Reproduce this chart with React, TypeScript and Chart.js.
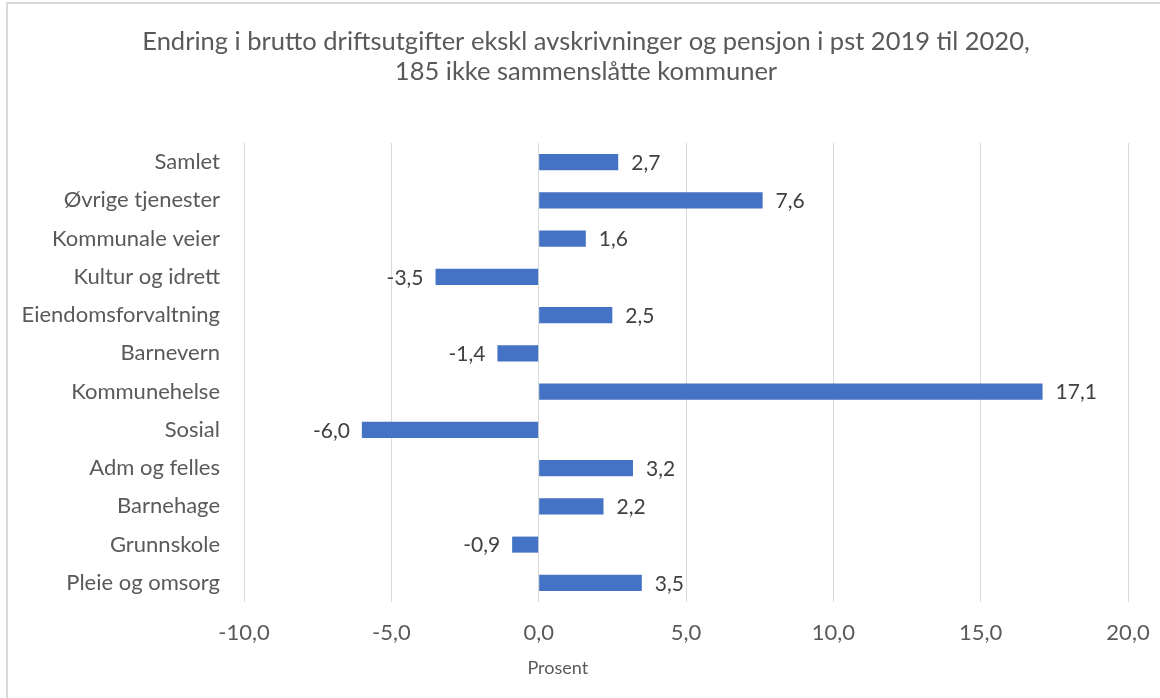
import React, { useEffect, useRef } from "react";
import { Chart, registerables } from "chart.js";

Chart.register(...registerables);

const titleLines = [
  "Endring i brutto driftsutgifter ekskl avskrivninger og pensjon i pst 2019 til 2020,",
  "185 ikke sammenslåtte kommuner",
];
const categories = [
  "Samlet",
  "Øvrige tjenester",
  "Kommunale veier",
  "Kultur og idrett",
  "Eiendomsforvaltning",
  "Barnevern",
  "Kommunehelse",
  "Sosial",
  "Adm og felles",
  "Barnehage",
  "Grunnskole",
  "Pleie og omsorg",
];
const values = [2.7, 7.6, 1.6, -3.5, 2.5, -1.4, 17.1, -6.0, 3.2, 2.2, -0.9, 3.5];
const xMin = -10;
const xMax = 20;
const xStep = 5;
const axisTitle = "Prosent";

const FONT = "Lato, 'Open Sans', sans-serif";
const fmt = (v: number) => v.toFixed(1).replace(".", ",");

const FRAME_LEFT = 6;

const labelPlugin = {
  id: "barLabels",
  afterDatasetsDraw(chart: any) {
    const ctx = chart.ctx;
    const meta = chart.getDatasetMeta(0);
    ctx.save();
    ctx.font = `21px ${FONT}`;
    ctx.fillStyle = "#404040";
    ctx.textBaseline = "middle";
    meta.data.forEach((bar: any, i: number) => {
      const v = values[i];
      if (v >= 0) {
        ctx.textAlign = "left";
        ctx.fillText(fmt(v), bar.x + 13, bar.y + 1);
      } else {
        ctx.textAlign = "right";
        ctx.fillText(fmt(v), bar.x - 12, bar.y + 1);
      }
    });
    // axis title (Excel places it off-centre)
    const { left, right } = chart.chartArea;
    ctx.font = `18px ${FONT}`;
    ctx.fillStyle = "#595959";
    ctx.textAlign = "center";
    ctx.fillText(axisTitle, left + (right - left) * 0.355, 668);
    // chart title, centred on the framed chart
    ctx.font = `25.5px ${FONT}`;
    const cx = (chart.width + 2 * FRAME_LEFT) / 2;
    titleLines.forEach((line, i) => {
      ctx.fillText(line, cx, 42 + i * 30);
    });
    ctx.restore();
  },
};

export default function App() {
  const ref = useRef<HTMLCanvasElement | null>(null);
  useEffect(() => {
    document.body.style.margin = "0";
    if (!ref.current) return;
    const chart = new Chart(ref.current, {
      type: "bar",
      data: {
        labels: categories,
        datasets: [
          {
            data: values,
            backgroundColor: "#4472c4",
            borderWidth: 0,
            barPercentage: 0.42,
            categoryPercentage: 1,
          },
        ],
      },
      options: {
        indexAxis: "y",
        animation: false,
        responsive: false,
        maintainAspectRatio: false,
        layout: { padding: { left: 12, right: 32, top: 143, bottom: 19 } },
        plugins: {
          legend: { display: false },
          tooltip: { enabled: false },
          title: { display: false },
        },
        scales: {
          x: {
            min: xMin,
            max: xMax,
            ticks: {
              stepSize: xStep,
              padding: 18,
              color: "#595959",
              font: { family: FONT, size: 22 },
              callback: (v: any) => fmt(Number(v)),
            },
            grid: { color: "#d9d9d9", lineWidth: 1, drawTicks: false },
            border: { display: false },
            title: { display: false },
            afterFit: (scale: any) => {
              scale.height = 77;
              scale.paddingLeft = 0;
              scale.paddingRight = 0;
            },
          },
          y: {
            grid: { display: false, drawTicks: false },
            border: { display: false },
            ticks: {
              padding: 24,
              color: "#595959",
              font: { family: FONT, size: 22 },
            },
            afterFit: (scale: any) => {
              scale.width = 232;
            },
          },
        },
      },
      plugins: [labelPlugin],
    });
    return () => chart.destroy();
  }, []);
  return (
    <div style={{ position: "fixed", left: 0, top: 0, width: 1160, height: 698, overflow: "hidden", background: "#fff" }}>
      <div
        style={{
          position: "absolute",
          left: FRAME_LEFT,
          top: 2,
          width: 1200,
          height: 760,
          border: "2px solid #d9d9d9",
          boxSizing: "border-box",
        }}
      />
      <canvas ref={ref} width={1160} height={698} style={{ position: "absolute", left: 0, top: 0 }} />
    </div>
  );
}
